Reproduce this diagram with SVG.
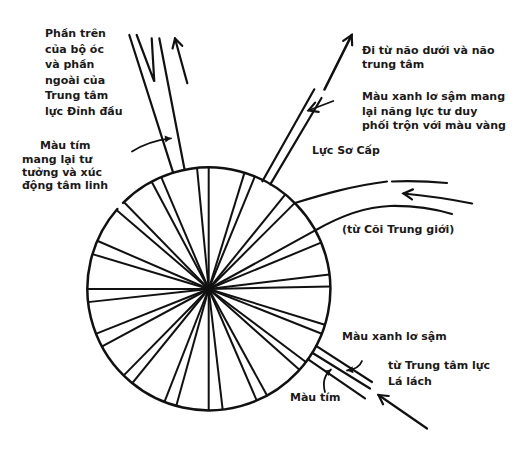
<svg xmlns="http://www.w3.org/2000/svg" width="519" height="455" viewBox="0 0 519 455">
<defs>
<style>
.ln{fill:none;stroke:#111;stroke-width:2.2;stroke-linecap:round}
.th{fill:none;stroke:#111;stroke-width:2.6;stroke-linecap:round}
.sp{stroke:#111;stroke-width:2}
text{font-family:"DejaVu Sans","Liberation Sans",sans-serif;font-size:11px;font-weight:bold;fill:#1a1a1a}
</style>
<marker id="open" markerUnits="userSpaceOnUse" viewBox="-12 -8 14 16" markerWidth="14" markerHeight="16" refX="0" refY="0" orient="auto">
<path d="M-9,-5 L0,0 L-9,5" fill="none" stroke="#111" stroke-width="2.2" stroke-linecap="round"/>
</marker>
<marker id="tip" markerUnits="userSpaceOnUse" viewBox="-8 -5 10 10" markerWidth="10" markerHeight="10" refX="0" refY="0" orient="auto">
<path d="M-6,-3.5 L0,0 L-6,3.5 Z" fill="#111"/>
</marker>
</defs>
<rect width="519" height="455" fill="#fff"/>

<g id="wheel">
<path class="ln" style="stroke-width:2.5" d="M123.1,202.8 A121.5,121.5 0 1 1 117.3,209.0"/>
<g transform="translate(208.7,289)">
<line class="sp" x2="0" y2="-121.5" transform="rotate(0)"/>
<line class="sp" x2="0" y2="-121.5" transform="rotate(-5.5)"/>
<line class="sp" x2="0" y2="-121.5" transform="rotate(-23)"/>
<line class="sp" x2="0" y2="-121.5" transform="rotate(-28)"/>
<line class="sp" x2="0" y2="-121.5" transform="rotate(-44.3)"/>
<line class="sp" x2="0" y2="-121.5" transform="rotate(-49.4)"/>
<line class="sp" x2="0" y2="-121.5" transform="rotate(-66.6)"/>
<line class="sp" x2="0" y2="-121.5" transform="rotate(-73.3)"/>
<line class="sp" x2="0" y2="-121.5" transform="rotate(-90)"/>
<line class="sp" x2="0" y2="-121.5" transform="rotate(-96.2)"/>
<line class="sp" x2="0" y2="-121.5" transform="rotate(-111.7)"/>
<line class="sp" x2="0" y2="-121.5" transform="rotate(-118.3)"/>
<line class="sp" x2="0" y2="-121.5" transform="rotate(-135.5)"/>
<line class="sp" x2="0" y2="-121.5" transform="rotate(-140.9)"/>
<line class="sp" x2="0" y2="-121.5" transform="rotate(-158.6)"/>
<line class="sp" x2="0" y2="-121.5" transform="rotate(-164.5)"/>
<line class="sp" x2="0" y2="-121.5" transform="rotate(180)"/>
<line class="sp" x2="0" y2="-121.5" transform="rotate(173.4)"/>
<line class="sp" x2="0" y2="-121.5" transform="rotate(156.7)"/>
<line class="sp" x2="0" y2="-121.5" transform="rotate(151.3)"/>
<line class="sp" x2="0" y2="-121.5" transform="rotate(131.7)"/>
<line class="sp" x2="0" y2="-121.5" transform="rotate(126.9)"/>
<line class="sp" x2="0" y2="-121.5" transform="rotate(111.6)"/>
<line class="sp" x2="0" y2="-121.5" transform="rotate(107.1)"/>
<line class="sp" x2="0" y2="-121.5" transform="rotate(88.8)"/>
<line class="sp" x2="0" y2="-121.5" transform="rotate(83.1)"/>
<line class="sp" x2="0" y2="-121.5" transform="rotate(67.6)"/>
<line class="sp" x2="0" y2="-121.5" transform="rotate(61.2)"/>
<line class="sp" x2="0" y2="-121.5" transform="rotate(45)"/>
<line class="sp" x2="0" y2="-121.5" transform="rotate(39)"/>
<line class="sp" x2="0" y2="-121.5" transform="rotate(22.3)"/>
<line class="sp" x2="0" y2="-121.5" transform="rotate(17.1)"/>
</g>
</g>

<g id="connectors">
<!-- crown tube -->
<path class="ln" d="M129.3,35 L173.2,172.9"/>
<path class="ln" d="M136.7,35 L154.3,81.7 L151.7,38.3"/>
<path class="ln" d="M159.3,38.3 L184.6,169.8"/>
<path class="ln" marker-end="url(#open)" d="M187.3,83.3 L175,38.5"/>
<path class="ln" style="stroke-width:1.8" marker-end="url(#tip)" d="M132,151.5 Q148,141 171,138.3"/>
<!-- primary force tube -->
<path class="ln" d="M262.4,181.3 L314.3,89.3"/>
<path class="ln" d="M270.3,184.4 L321.5,98"/>
<path class="th" marker-end="url(#open)" d="M324.5,89.5 L351.7,35"/>
<path class="ln" style="stroke-width:1.8" marker-end="url(#open)" d="M333.3,101 L308.5,110.5"/>
<!-- astral currents -->
<path class="ln" d="M294.6,203.1 C318,196 350,186 387,181.5"/>
<path class="ln" d="M392,181.5 Q420,180.5 447,183"/>
<path class="ln" d="M315.1,230.5 C335,219 360,207 390,206 C415,205.5 435,209 452,214"/>
<path class="ln" marker-end="url(#open)" d="M472,203.5 Q440,197 403.5,193.5"/>
<!-- spleen tube -->
<path class="ln" d="M316.1,345.8 L372,382"/>
<path class="ln" d="M312.2,352.7 L370,388.5"/>
<path class="ln" d="M307.8,359.2 L365,398.3"/>
<path class="ln" marker-end="url(#open)" d="M427,428.5 L378.5,395"/>
<path class="ln" style="stroke-width:1.8" marker-end="url(#tip)" d="M362,361 Q359,369 347,370.5"/>
<path class="ln" style="stroke-width:1.8" marker-end="url(#tip)" d="M325,392 Q321,378 331,369.5"/>
</g>

<g id="label-crown">
<text x="45" y="37.3">Phần trên</text>
<text x="45" y="52.7">của bộ óc</text>
<text x="45" y="68.3">và phần</text>
<text x="45" y="83.5">ngoài của</text>
<text x="45" y="99.3">Trung tâm</text>
<text x="45" y="115">lực Đỉnh đầu</text>
</g>
<g id="label-violet">
<text x="40" y="149">Màu tím</text>
<text x="22" y="162.5">mang lại tư</text>
<text x="22" y="176">tưởng và xúc</text>
<text x="22" y="189">động tâm linh</text>
</g>
<g id="label-brain">
<text x="362" y="54">Đi từ não dưới và não</text>
<text x="362" y="67.7">trung tâm</text>
</g>
<g id="label-blue">
<text x="362" y="100">Màu xanh lơ sậm mang</text>
<text x="362" y="114.5">lại năng lực tư duy</text>
<text x="362" y="129.3">phối trộn với màu vàng</text>
</g>
<g id="label-primary">
<text x="312" y="154">Lực Sơ Cấp</text>
</g>
<g id="label-astral">
<text x="342" y="233.3">(từ Cõi Trung giới)</text>
</g>
<g id="label-spleen">
<text x="342" y="340">Màu xanh lơ sậm</text>
<text x="388" y="368.5">từ Trung tâm lực</text>
<text x="388" y="385">Lá lách</text>
<text x="290" y="400.7">Màu tím</text>
</g>
</svg>
